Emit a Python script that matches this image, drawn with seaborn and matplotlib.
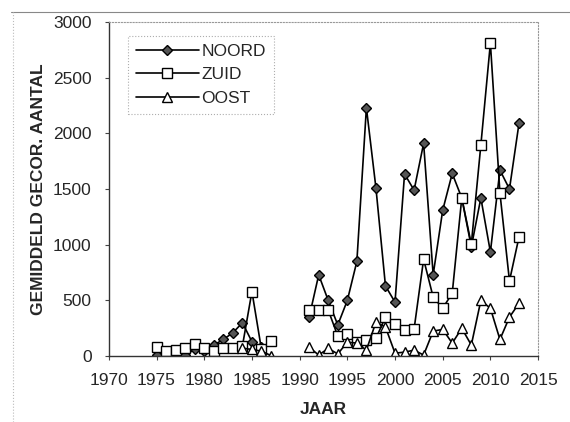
import numpy as np
import pandas as pd
import matplotlib
matplotlib.use("Agg")
import matplotlib.pyplot as plt
import seaborn as sns
from matplotlib.lines import Line2D

# Data (two periods per series, gap 1988-1990)
jaar_noord = list(range(1975, 1987)) + list(range(1991, 2014))
noord = [10, 20, 30, 10, 60, 50, 100, 150, 210, 300, 130, 80,
         350, 730, 500, 280, 500, 850, 2230, 1510, 630, 485, 1635, 1490,
         1910, 730, 1310, 1640, 1420, 980, 1420, 935, 1670, 1500, 2090]

jaar_zuid = list(range(1975, 1988)) + list(range(1991, 2014))
zuid = [80, 45, 54, 72, 108, 72, 45, 72, 72, 90, 580, 60, 140,
        414, 414, 414, 180, 198, 126, 144, 160, 350, 288, 234, 243,
        870, 530, 430, 565, 1420, 1005, 1895, 2810, 1465, 675, 1070]

jaar_oost = list(range(1984, 1988)) + list(range(1991, 2014))
oost = [72, 60, 45, 5,
        80, 10, 70, 20, 126, 117, 54, 306, 261, 27, 36, 54, 10,
        225, 240, 117, 250, 100, 500, 430, 150, 350, 475]


def make_df(jaar, waarden, naam):
    df = pd.DataFrame({"jaar": jaar, "aantal": waarden})
    df["reeks"] = naam
    df["periode"] = np.where(df["jaar"] < 1990, 1, 2)
    return df


data = pd.concat([make_df(jaar_noord, noord, "NOORD"),
                  make_df(jaar_zuid, zuid, "ZUID"),
                  make_df(jaar_oost, oost, "OOST")], ignore_index=True)

sns.set_style("ticks")
plt.rcParams["font.family"] = ["Liberation Sans", "DejaVu Sans"]

fig = plt.figure(figsize=(5.7, 4.22), dpi=100)
ax = fig.add_axes([0.191, 0.156, 0.753, 0.792])

stijlen = {
    "NOORD": dict(marker="D", markersize=5.5, markerfacecolor="#555555", markeredgecolor="black"),
    "ZUID": dict(marker="s", markersize=7.5, markerfacecolor="white", markeredgecolor="black"),
    "OOST": dict(marker="^", markersize=7.5, markerfacecolor="white", markeredgecolor="black"),
}

# draw order: NOORD first, ZUID and OOST on top
for naam in ["NOORD", "ZUID", "OOST"]:
    sub = data[data["reeks"] == naam]
    sns.lineplot(data=sub, x="jaar", y="aantal", units="periode", estimator=None,
                 color="black", linewidth=1.2, markeredgewidth=1.0,
                 legend=False, ax=ax, **stijlen[naam])

ax.set_xlim(1970, 2015)
ax.set_ylim(0, 3000)
ax.set_xticks(range(1970, 2016, 5))
ax.set_yticks(range(0, 3001, 500))
ax.tick_params(labelsize=12.5, length=3, width=0.8, color="#444444")
ax.tick_params(axis="y", pad=9.5)
ax.tick_params(axis="x", pad=9)
ax.set_xlabel("JAAR", fontsize=12.5, fontweight="bold", labelpad=10)
ax.set_ylabel("GEMIDDELD GECOR. AANTAL", fontsize=12.5, fontweight="bold", labelpad=5)

for kant in ["top", "right"]:
    ax.spines[kant].set_visible(True)
    ax.spines[kant].set_linestyle(":")
    ax.spines[kant].set_color("#999999")
    ax.spines[kant].set_linewidth(0.8)
for kant in ["left", "bottom"]:
    ax.spines[kant].set_color("#333333")
    ax.spines[kant].set_linewidth(1.0)

handles = [Line2D([], [], color="black", linewidth=1.2, markeredgewidth=1.0, **stijlen[n])
           for n in ["NOORD", "ZUID", "OOST"]]
leg = ax.legend(handles, ["NOORD", "ZUID", "OOST"], loc="upper left",
                bbox_to_anchor=(0.025, 0.985), fontsize=12.5, handlelength=3.6,
                handletextpad=0.15, labelspacing=0.5, borderpad=0.45,
                frameon=True, fancybox=False)
leg.get_frame().set_edgecolor("#999999")
leg.get_frame().set_linestyle(":")
leg.get_frame().set_linewidth(0.8)

# faint scan border of the original page
fig.add_artist(Line2D([0.02, 1.0], [0.972, 0.972], color="#888888", linewidth=0.8))
fig.add_artist(Line2D([0.022, 0.022], [0.0, 0.972], color="#bbbbbb", linewidth=0.8, linestyle=":"))

plt.savefig("out.png", dpi=100)
